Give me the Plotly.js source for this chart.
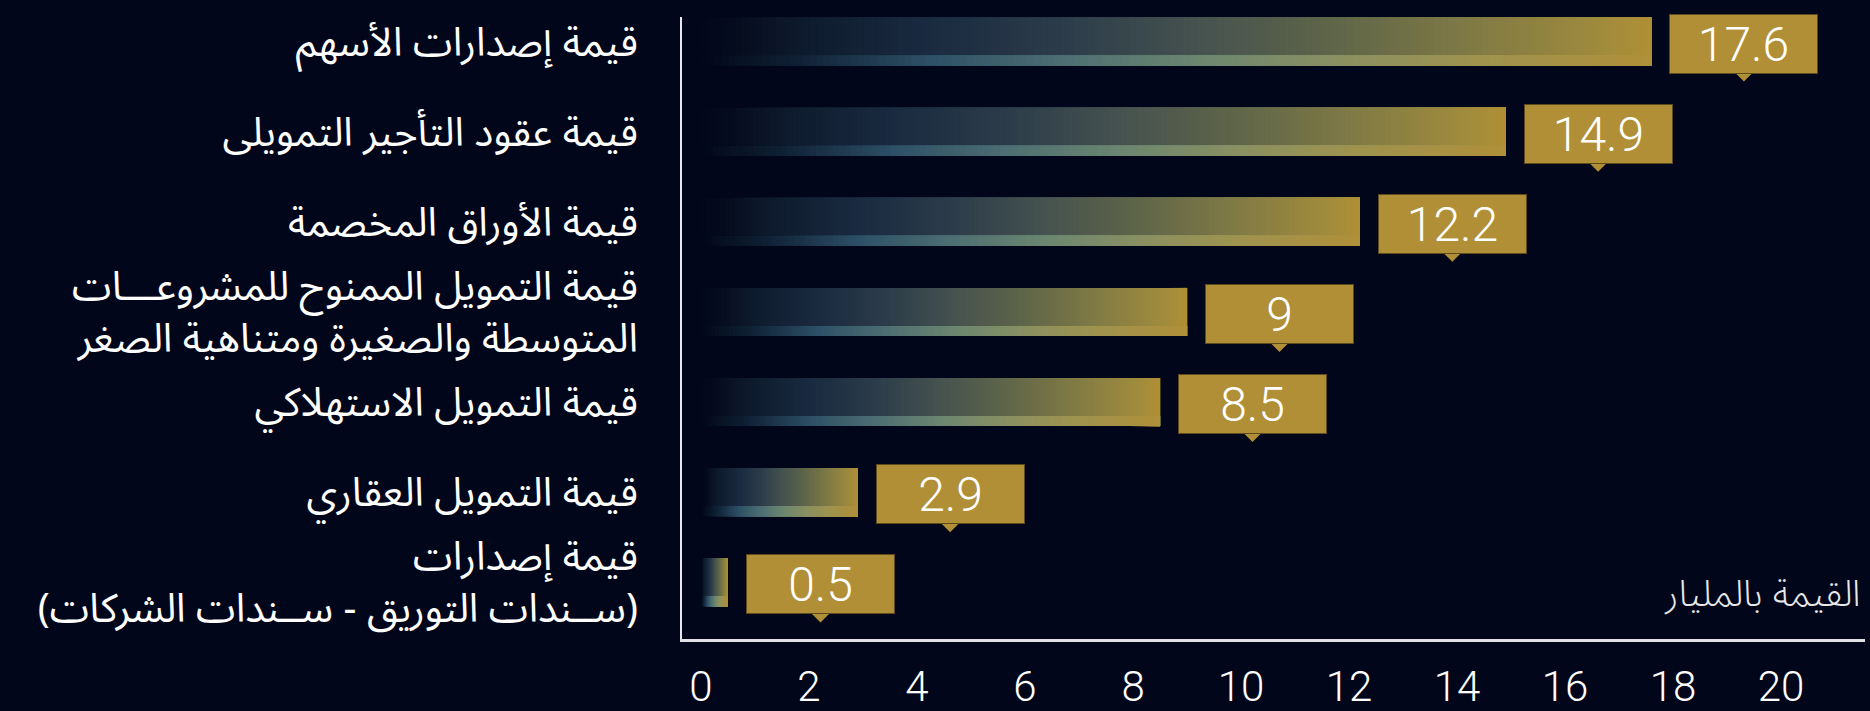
<!DOCTYPE html>
<html><head><meta charset="utf-8">
<script src="https://cdn.plot.ly/plotly-3.0.1.min.js"></script>
<style>html,body{margin:0;padding:0;background:#02061a;}#chart{width:1870px;height:711px;}</style>
</head><body><div id="chart"></div>
<script>
// ---- data ----
const categories = [
  'قيمة إصدارات الأسهم',
  'قيمة عقود التأجير التمويلى',
  'قيمة الأوراق المخصمة',
  'قيمة التمويل الممنوح للمشروعـــات<br>المتوسطة والصغيرة ومتناهية الصغر',
  'قيمة التمويل الاستهلاكي',
  'قيمة التمويل العقاري',
  'قيمة إصدارات<br>(ســندات التوريق - ســندات الشركات)'
];
const values = [17.6, 14.9, 12.2, 9, 8.5, 2.9, 0.5];
const valueLabels = ['17.6', '14.9', '12.2', '9', '8.5', '2.9', '0.5'];
const xTickVals = [0, 2, 4, 6, 8, 10, 12, 14, 16, 18, 20];
const xTickText = ['0', '2', '4', '6', '8', '10', '12', '14', '16', '18', '20'];
const axisTitle = 'القيمة بالمليار';

// ---- styles ----
const BG = '#02061a';
const GOLD = '#b08f36';
const NUM_FONT = 'Roboto, "DejaVu Sans", sans-serif';
const AR_FONT = '"Noto Sans Arabic", "Noto Naskh Arabic", "DejaVu Sans", sans-serif';
const mainStops = [[0,'#02061a'],[0.04,'#050c1e'],[0.1,'#0d1a2c'],[0.24,'#1a2a40'],[0.38,'#2c3c4a'],[0.52,'#45524f'],[0.67,'#606649'],[0.81,'#807a45'],[0.95,'#a08b3c'],[1,'#b08f36']];
const stripStops = [[0,'#02061a'],[0.04,'#071222'],[0.1,'#0f2035'],[0.24,'#2d5066'],[0.38,'#4d6e72'],[0.52,'#6b8670'],[0.67,'#8a9062'],[0.81,'#9e934f'],[0.95,'#ab9040'],[1,'#b09038']];

function hex2rgb(h){return [parseInt(h.slice(1,3),16),parseInt(h.slice(3,5),16),parseInt(h.slice(5,7),16)];}
function interp(stops,t){
  for(let i=1;i<stops.length;i++){
    if(t<=stops[i][0]){
      const a=stops[i-1],b=stops[i];
      const f=(t-a[0])/(b[0]-a[0]);
      const ca=hex2rgb(a[1]),cb=hex2rgb(b[1]);
      const c=ca.map((v,j)=>Math.round(v+(cb[j]-v)*f));
      return 'rgb('+c.join(',')+')';
    }
  }
  return stops[stops.length-1][1];
}

const PX_PER_CAT = 90.14;
const BAR_H = 48, STRIP_H = 10;
const mainW = BAR_H/PX_PER_CAT, stripW = STRIP_H/PX_PER_CAT;
const N = 140;
const traces = [];
function addGradient(stops, width, offset){
  for(let k=0;k<N;k++){
    const t0=k/N, tc=(k+0.5)/N;
    traces.push({
      type:'bar', orientation:'h', y:categories,
      x:values.map(v=>v*(1-t0)), base:values.map(v=>v*t0),
      width:width, offset:offset,
      marker:{color:interp(stops,tc), line:{width:0}},
      hoverinfo:'skip', showlegend:false
    });
  }
}
addGradient(mainStops, mainW, -mainW/2);
addGradient(stripStops, stripW, mainW/2 - stripW);

const BOX_GAP = 18, BOX_W = 147, BOX_H = 58;
const annotations = values.map((v,i)=>({
  x:v, y:categories[i], xref:'x', yref:'y', text:valueLabels[i], showarrow:false,
  xanchor:'left', yanchor:'middle', xshift:BOX_GAP, yshift:-2,
  width:BOX_W, height:BOX_H, bgcolor:GOLD, bordercolor:'#5e4b1c', borderwidth:1, borderpad:0,
  align:'center', valign:'middle',
  font:{family:NUM_FONT, size:48, weight:300, color:'#ffffff'}
}));
annotations.push({
  xref:'paper', yref:'paper', x:1, y:0, xanchor:'right', yanchor:'bottom', xshift:-2, yshift:4,
  text:axisTitle, showarrow:false, font:{family:AR_FONT, size:37, weight:300, color:'#e8e8e8'}
});
const cx = BOX_GAP + (BOX_W+2)/2;
const shapes = values.map((v,i)=>({
  type:'path', xref:'x', yref:'y', xsizemode:'pixel', ysizemode:'pixel',
  xanchor:v, yanchor:categories[i],
  path:'M '+(cx-9)+' -31 L '+(cx+9)+' -31 L '+cx+' -40 Z',
  fillcolor:GOLD, line:{width:0}
}));

const layout = {
  width:1870, height:711,
  paper_bgcolor:BG, plot_bgcolor:BG,
  margin:{l:682, r:5, t:17, b:72},
  barmode:'overlay',
  showlegend:false,
  xaxis:{
    range:[-0.352, 21.555], tickmode:'array', tickvals:xTickVals, ticktext:xTickText,
    showgrid:false, zeroline:false, showline:true, linecolor:'#e0e0e6', linewidth:3,
    ticks:'outside', ticklen:9, tickcolor:'rgba(0,0,0,0)',
    tickfont:{family:NUM_FONT, size:42, weight:300, color:'#ffffff'}, fixedrange:true
  },
  yaxis:{
    type:'category', range:[6.628, -0.272], autorange:false,
    showgrid:false, zeroline:false, showline:true, linecolor:'#e8e8ee', linewidth:2,
    ticks:'outside', ticklen:34, tickcolor:'rgba(0,0,0,0)',
    tickfont:{family:AR_FONT, size:40, color:'#ffffff'}, fixedrange:true
  },
  annotations:annotations,
  shapes:shapes
};
Plotly.newPlot('chart', traces, layout, {displayModeBar:false, staticPlot:true});
</script>
</body></html>
